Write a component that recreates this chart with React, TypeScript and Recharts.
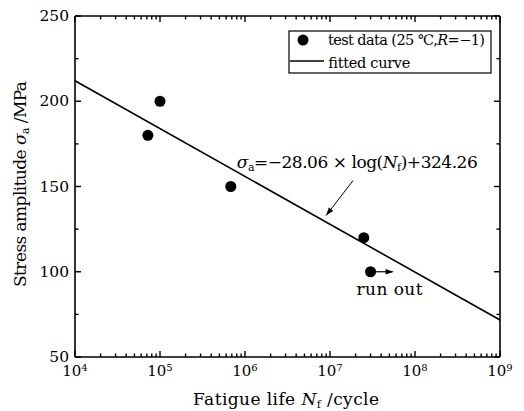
import React from 'react';
import { ComposedChart, Line, Scatter, XAxis, YAxis, ReferenceDot } from 'recharts';

const FONT = "'DejaVu Serif', serif";

// fitted curve sigma_a = -28.06 log(Nf) + 324.26, endpoints
const fitLife = [1e4, 1e9];
const fitStress = [212.02, 71.72];

// test data (25 °C, R = -1)
const testLife = [7.2e4, 1.0e5, 6.8e5, 2.5e7, 3.0e7];
const testStress = [180, 200, 150, 120, 100];

// run-out specimen
const runOutLife = 3.0e7;
const runOutStress = 100;

const xMajorTicks = [1e4, 1e5, 1e6, 1e7, 1e8, 1e9];
const xMinorMult = [2, 3, 4, 5, 6, 7, 8, 9];
const yMajorTicks = [50, 100, 150, 200, 250];
const yMinorTicks = [75, 125, 175, 225];

const xAllTicks: number[] = [];
xMajorTicks.forEach((d, i) => {
  xAllTicks.push(d);
  if (i < xMajorTicks.length - 1) xMinorMult.forEach((m) => xAllTicks.push(m * d));
});
const yAllTicks = [...yMajorTicks, ...yMinorTicks].sort((a, b) => a - b);

const fitData = fitLife.map((x, i) => ({ x, y: fitStress[i] }));
const testData = testLife.map((x, i) => ({ x, y: testStress[i] }));

const MAJ = 6;
const MIN = 3.5;
const SW = 1.4;

const BottomTick = (props: any) => {
  const { x, y, payload } = props;
  const v = payload.value;
  const major = xMajorTicks.includes(v);
  const exp = Math.round(Math.log10(v));
  return (
    <g>
      <line x1={x} y1={y} x2={x} y2={y - (major ? MAJ : MIN)} stroke="#000" strokeWidth={SW} />
      {major && (
        <text x={x} y={y + 19} textAnchor="middle" fontFamily={FONT} fontSize={15} fill="#000">
          10<tspan dy={-5} fontSize={10}>{exp}</tspan>
        </text>
      )}
    </g>
  );
};

const TopTick = (props: any) => {
  const { x, y, payload } = props;
  const major = xMajorTicks.includes(payload.value);
  return <line x1={x} y1={y} x2={x} y2={y + (major ? MAJ : MIN)} stroke="#000" strokeWidth={SW} />;
};

const LeftTick = (props: any) => {
  const { x, y, payload } = props;
  const major = yMajorTicks.includes(payload.value);
  return (
    <g>
      <line x1={x} y1={y} x2={x + (major ? MAJ : MIN)} y2={y} stroke="#000" strokeWidth={SW} />
      {major && (
        <text x={x - 6} y={y + 5} textAnchor="end" fontFamily={FONT} fontSize={15.5} fill="#000">
          {payload.value}
        </text>
      )}
    </g>
  );
};

const RightTick = (props: any) => {
  const { x, y, payload } = props;
  const major = yMajorTicks.includes(payload.value);
  return <line x1={x} y1={y} x2={x - (major ? MAJ : MIN)} y2={y} stroke="#000" strokeWidth={SW} />;
};

const arrowHead = (x1: number, y1: number, x2: number, y2: number, len = 8, half = 2.8) => {
  const dx = x2 - x1;
  const dy = y2 - y1;
  const L = Math.sqrt(dx * dx + dy * dy);
  const ux = dx / L;
  const uy = dy / L;
  const bx = x2 - ux * len;
  const by = y2 - uy * len;
  return `${x2},${y2} ${bx - uy * half},${by + ux * half} ${bx + uy * half},${by - ux * half}`;
};

const Dot = (props: any) => <circle cx={props.cx} cy={props.cy} r={5.5} fill="#000" />;

const EquationShape = (props: any) => {
  const { cx, cy } = props;
  return (
    <text x={cx} y={cy} fontFamily={FONT} fontSize={17} fill="#000" textLength={241}>
      <tspan fontStyle="italic">σ</tspan>
      <tspan fontSize={11} dy={3}>a</tspan>
      <tspan dy={-3}>=−28.06 × log(</tspan>
      <tspan fontStyle="italic">N</tspan>
      <tspan fontSize={11} dy={3}>f</tspan>
      <tspan dy={-3}>)+324.26</tspan>
    </text>
  );
};

const EqArrowShape = (props: any) => {
  const { cx, cy } = props;
  const sx = cx + 27;
  const sy = cy - 35;
  return (
    <g>
      <line x1={sx} y1={sy} x2={cx} y2={cy} stroke="#000" strokeWidth={1} />
      <polygon points={arrowHead(sx, sy, cx, cy)} fill="#000" />
    </g>
  );
};

const RunOutShape = (props: any) => {
  const { cx, cy } = props;
  return (
    <g>
      <line x1={cx + 4} y1={cy} x2={cx + 22} y2={cy} stroke="#000" strokeWidth={1.2} />
      <polygon points={arrowHead(cx + 4, cy, cx + 23, cy, 8, 2.8)} fill="#000" />
      <text x={cx - 14} y={cy + 23} fontFamily={FONT} fontSize={17} fill="#000" textLength={66}>
        run out
      </text>
    </g>
  );
};

const XLabel = () => (
  <text x={286} y={405} textAnchor="middle" fontFamily={FONT} fontSize={17} fill="#000" textLength={186}>
    Fatigue life <tspan fontStyle="italic">N</tspan>
    <tspan fontSize={11} dy={3}>f</tspan>
    <tspan dy={-3}> /cycle</tspan>
  </text>
);

const YLabel = () => (
  <text
    x={26}
    y={184}
    transform="rotate(-90 26 184)"
    textAnchor="middle"
    fontFamily={FONT}
    fontSize={17}
    fill="#000"
    textLength={206}
  >
    Stress amplitude <tspan fontStyle="italic">σ</tspan>
    <tspan fontSize={11} dy={3}>a</tspan>
    <tspan dy={-3}> /MPa</tspan>
  </text>
);

const Legend = () => (
  <svg width={204} height={44} style={{ position: 'absolute', left: 288, top: 30 }}>
    <rect x={1} y={1} width={202} height={42} fill="#fff" stroke="#000" strokeWidth={1.2} />
    <circle cx={15} cy={10} r={5.5} fill="#000" />
    <text x={40} y={15} fontFamily={FONT} fontSize={14.5} fill="#000" textLength={157}>
      test data (25 ℃,<tspan fontStyle="italic">R</tspan>=−1)
    </text>
    <line x1={2} y1={31} x2={36} y2={31} stroke="#000" strokeWidth={1.6} />
    <text x={40} y={38} fontFamily={FONT} fontSize={14.5} fill="#000" textLength={82}>
      fitted curve
    </text>
  </svg>
);

export default function App() {
  return (
    <div style={{ position: 'absolute', left: 0, top: 0, width: 524, height: 411, background: '#fff' }}>
      <ComposedChart
        width={524}
        height={411}
        data={fitData}
        margin={{ top: 10, right: 14, left: 25, bottom: 14 }}
      >
        <XAxis
          xAxisId={0}
          dataKey="x"
          type="number"
          scale="log"
          domain={[1e4, 1e9]}
          allowDataOverflow
          ticks={xAllTicks}
          interval={0}
          tick={<BottomTick />}
          tickLine={false}
          tickSize={0}
          tickMargin={0}
          height={40}
          axisLine={{ stroke: '#000', strokeWidth: 1.6 }}
          label={{ content: () => <XLabel /> }}
        />
        <XAxis
          xAxisId="top"
          orientation="top"
          dataKey="x"
          type="number"
          scale="log"
          domain={[1e4, 1e9]}
          allowDataOverflow
          ticks={xAllTicks}
          interval={0}
          tick={<TopTick />}
          tickLine={false}
          tickSize={0}
          tickMargin={0}
          height={6}
          axisLine={{ stroke: '#000', strokeWidth: 1.6 }}
        />
        <YAxis
          yAxisId={0}
          type="number"
          domain={[50, 250]}
          allowDataOverflow
          ticks={yAllTicks}
          interval={0}
          tick={<LeftTick />}
          tickLine={false}
          tickSize={0}
          tickMargin={0}
          width={50}
          axisLine={{ stroke: '#000', strokeWidth: 1.6 }}
          label={{ content: () => <YLabel /> }}
        />
        <YAxis
          yAxisId="right"
          orientation="right"
          type="number"
          domain={[50, 250]}
          allowDataOverflow
          ticks={yAllTicks}
          interval={0}
          tick={<RightTick />}
          tickLine={false}
          tickSize={0}
          tickMargin={0}
          width={10}
          axisLine={{ stroke: '#000', strokeWidth: 1.6 }}
        />
        <Line
          dataKey="y"
          stroke="#000"
          strokeWidth={1.6}
          dot={false}
          activeDot={false}
          isAnimationActive={false}
        />
        <Scatter data={testData} dataKey="y" shape={<Dot />} isAnimationActive={false} />
        <ReferenceDot x={8.0e5} y={161} shape={<EquationShape />} />
        <ReferenceDot x={9.0e6} y={133} shape={<EqArrowShape />} />
        <ReferenceDot x={runOutLife} y={runOutStress} shape={<RunOutShape />} />
      </ComposedChart>
      <Legend />
    </div>
  );
}
